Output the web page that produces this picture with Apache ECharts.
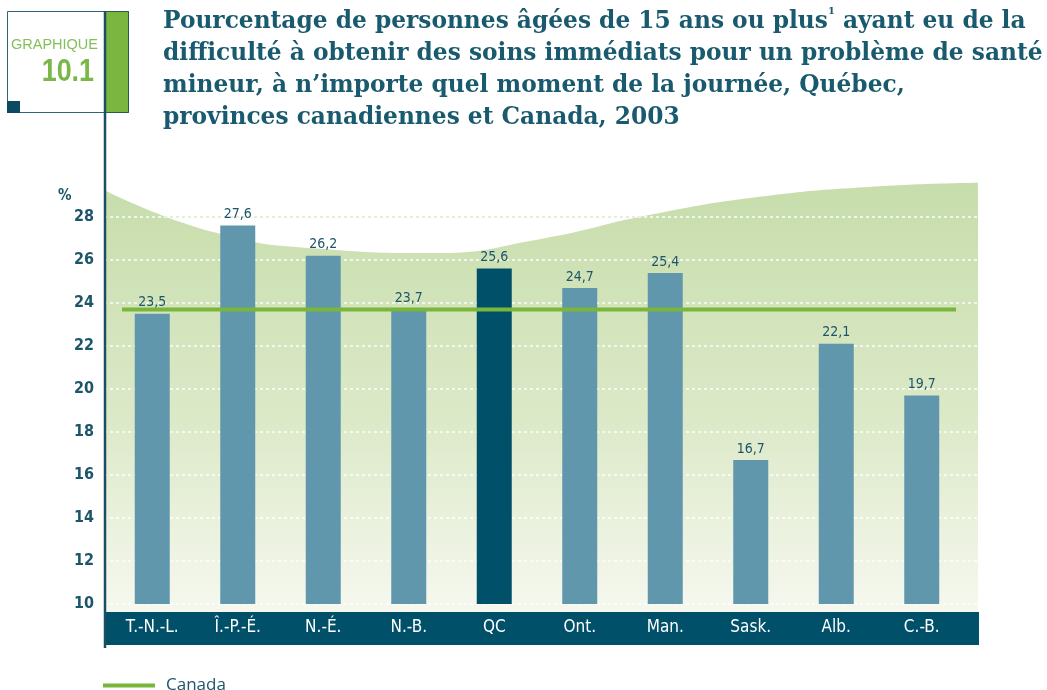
<!DOCTYPE html>
<html><head><meta charset="utf-8">
<script src="https://cdn.jsdelivr.net/npm/echarts@6/dist/echarts.min.js"></script>
<style>html,body{margin:0;padding:0;background:#fff}#c{width:1047px;height:690px}</style>
</head><body><div id="c"></div>
<script>
const categories = ['T.-N.-L.', 'Î.-P.-É.', 'N.-É.', 'N.-B.', 'QC', 'Ont.', 'Man.', 'Sask.', 'Alb.', 'C.-B.'];
const values = [23.5, 27.6, 26.2, 23.7, 25.6, 24.7, 25.4, 16.7, 22.1, 19.7];
const canadaValue = 23.7;
const highlight = 'QC';
const yMin = 10, yMax = 28, yStep = 2;
// decorative background wave (top edge, in % units)
const backdropCurve = [29.26, 27.3, 26.51, 26.32, 26.98, 28.1, 28.94, 29.4, 29.59];

const TEAL = '#1d5569', DARK = '#00506a', BAR = '#6097ad', GREEN = '#7ab53c';
const NARROW = "'Liberation Sans Narrow','DejaVu Sans Condensed','Liberation Sans',sans-serif";
const plotTop = 217, plotBottom = 604;
const pxPerUnit = (plotBottom - plotTop) / (yMax - yMin);
const waveTop = 174, waveBottom = 612;
const waveMax = yMax + (plotTop - waveTop) / pxPerUnit;
const waveMin = yMin - (waveBottom - plotBottom) / pxPerUnit;

const chart = echarts.init(document.getElementById('c'));
const nLines = (yMax - yMin) / yStep + 1;
const greenTopColors = Array.from({length: nLines}, (_, i) => i === nLines - 1 ? '#98c562' : 'rgba(0,0,0,0)');

chart.setOption({
  animation: false,
  title: {
    left: 158, top: 1,
    text: 'Pourcentage de personnes âgées de 15 ans ou plus{sup|1} ayant eu de la\ndifficulté à obtenir des soins immédiats pour un problème de santé\nmineur, à n’importe quel moment de la journée, Québec,\nprovinces canadiennes et Canada, 2003',
    textStyle: {
      fontFamily: "'DejaVu Serif',serif", fontWeight: 'bold', fontSize: 23.3, color: '#1a5a6e', lineHeight: 32,
      rich: { sup: { fontSize: 10, verticalAlign: 'top', fontFamily: "'DejaVu Serif',serif", color: '#1a5a6e', padding: [0, 0, 10, 0] } }
    }
  },
  legend: {
    left: 98, top: 672, icon: 'rect', itemWidth: 52, itemHeight: 4,
    data: ['Canada'],
    textStyle: { color: TEAL, fontSize: 17, fontFamily: "'Open Sans',sans-serif", padding: [0, 0, 0, 6] }
  },
  grid: [
    { left: 109.5, width: 855, top: plotTop, height: plotBottom - plotTop },     // bars
    { left: 104, width: 874, top: plotTop, height: plotBottom - plotTop },       // gridlines + y labels
    { left: 104, width: 874, top: waveTop, height: waveBottom - waveTop },       // wave
    { left: 122, width: 834, top: plotTop, height: plotBottom - plotTop }        // canada line
  ],
  xAxis: [
    { gridIndex: 0, type: 'category', data: categories, z: 5,
      axisLine: { show: false }, axisTick: { show: false },
      axisLabel: { color: '#ffffff', fontSize: 17, fontFamily: NARROW, margin: 15 } },
    { gridIndex: 1, type: 'value', show: false, min: 0, max: 1 },
    { gridIndex: 2, type: 'category', show: false, boundaryGap: false, data: backdropCurve.map((_, i) => i) },
    { gridIndex: 3, type: 'category', show: false, boundaryGap: false, data: ['a', 'b'] }
  ],
  yAxis: [
    { gridIndex: 0, type: 'value', min: yMin, max: yMax, interval: yStep, show: false },
    { gridIndex: 1, type: 'value', min: yMin, max: yMax, interval: yStep, z: 2,
      axisLine: { show: false }, axisTick: { show: false },
      axisLabel: { color: TEAL, fontSize: 16, fontWeight: 'bold', fontFamily: NARROW, margin: 10 },
      splitLine: { show: true, lineStyle: { color: 'rgba(255,255,255,0.95)', type: [3, 3], width: 1.5 } } },
    { gridIndex: 1, type: 'value', min: yMin, max: yMax, interval: yStep, z: 0,
      axisLine: { show: false }, axisTick: { show: false }, axisLabel: { show: false },
      splitLine: { show: true, lineStyle: { color: greenTopColors, type: [3, 3], width: 1.8 } } },
    { gridIndex: 2, type: 'value', min: waveMin, max: waveMax, show: false },
    { gridIndex: 3, type: 'value', min: yMin, max: yMax, show: false }
  ],
  series: [
    { name: 'backdrop', type: 'line', xAxisIndex: 2, yAxisIndex: 3, z: 1, smooth: 0.5,
      data: backdropCurve, symbol: 'none', silent: true,
      lineStyle: { width: 0, color: 'rgba(0,0,0,0)' },
      areaStyle: { opacity: 1, color: { type: 'linear', x: 0, y: 0, x2: 0, y2: 1,
        colorStops: [{ offset: 0, color: '#c7ddab' }, { offset: 0.55, color: '#dce9c8' }, { offset: 1, color: '#f6f8ef' }] } } },
    { name: 'values', type: 'bar', xAxisIndex: 0, yAxisIndex: 0, z: 3, barWidth: 35,
      data: values.map((v, i) => ({ value: v, itemStyle: { color: categories[i] === highlight ? DARK : BAR } })),
      label: { show: true, position: 'top', distance: 4, color: TEAL, fontSize: 14, fontFamily: NARROW,
        formatter: p => String(p.value).replace('.', ',') } },
    { name: 'Canada', type: 'line', xAxisIndex: 3, yAxisIndex: 4, z: 4,
      data: [canadaValue, canadaValue], symbol: 'none',
      itemStyle: { color: GREEN }, lineStyle: { color: GREEN, width: 4 } }
  ],
  graphic: [
    { type: 'rect', z: 1, shape: { x: 104, y: 612, width: 875, height: 33 }, style: { fill: DARK } },
    { type: 'rect', z: 1, shape: { x: 7.5, y: 11.5, width: 121, height: 101 }, style: { fill: '#fff', stroke: '#2e6579', lineWidth: 1 } },
    { type: 'rect', z: 2, shape: { x: 105, y: 11.5, width: 23.5, height: 101 }, style: { fill: '#7bb641', stroke: '#2b5a4a', lineWidth: 1 } },
    { type: 'rect', z: 2, shape: { x: 7, y: 101, width: 13, height: 12 }, style: { fill: '#0b4a60' } },
    { type: 'line', z: 10, shape: { x1: 105, y1: 11, x2: 105, y2: 648 }, style: { stroke: '#1a4e62', lineWidth: 2.5 } },
    { type: 'text', z: 3, style: { x: 11, y: 37, text: 'GRAPHIQUE', fill: '#86bf5a', font: "14.5px 'Liberation Sans',sans-serif" } },
    { type: 'text', z: 3, x: 94, y: 56, scaleX: 0.84, style: { x: 0, y: 0, text: '10.1', textAlign: 'right', fill: '#7ab648', font: "bold 32px 'Liberation Sans',sans-serif" } },
    { type: 'text', z: 3, style: { x: 58, y: 189, text: '%', fill: TEAL, font: "bold 15px " + NARROW } }
  ]
});
</script></body></html>
